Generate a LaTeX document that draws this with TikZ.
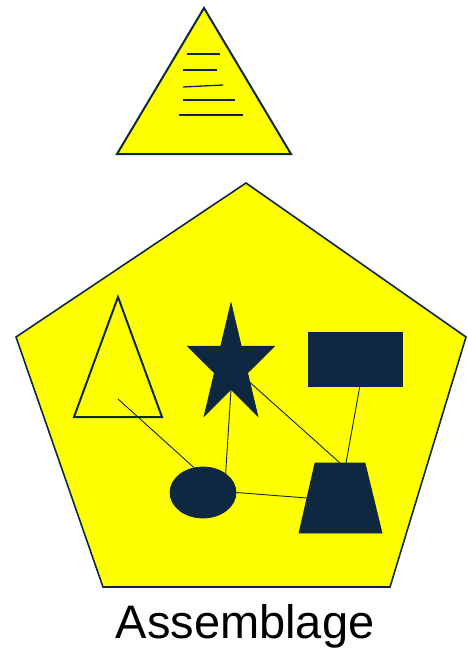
\documentclass[tikz,border=0pt]{standalone}
\usepackage{fontspec}
\setmainfont{Liberation Sans}
\usetikzlibrary{shapes.geometric}
\definecolor{navy}{HTML}{0E2841}
\definecolor{brightyellow}{HTML}{FFFF00}

\begin{document}
\begin{tikzpicture}[x=1pt, y=-1pt,
  outline/.style={draw=navy, line width=2pt},
  solid_part/.style={draw=navy, fill=navy, line width=0.75pt, inner sep=0pt},
  link/.style={draw=navy, line width=0.9pt},
  text_line/.style={draw=navy, line width=1.3pt}
]
  \useasboundingbox (0,0) rectangle (468,648);

  % TOP: pyramid with text lines
  \filldraw[outline, fill=brightyellow] (204,8) -- (291,154) -- (117,154) -- cycle;
  \draw[text_line] (187,54) -- (220,54);
  \draw[text_line] (183,70) -- (217,70);
  \draw[text_line] (183,87) -- (223,85);
  \draw[text_line] (183,100) -- (235,100);
  \draw[text_line] (179,115) -- (243,115);

  % BOTTOM: pentagon holding the parts
  \filldraw[outline, line width=1.6pt, fill=brightyellow]
    (246,183) -- (466,337) -- (390,587) -- (103,587) -- (16,337) -- cycle;

  % parts
  \draw[outline] (118,297) -- (162,417) -- (74,417) -- cycle;
  \coordinate (tri_mid) at (118,399);
  \node (star) [solid_part, star, star points=5, star point ratio=2.618,
    minimum size=125pt, xscale=0.73] at (231,365.5) {};
  \node (box) [solid_part, rectangle, minimum width=94pt, minimum height=54pt] at (355,359) {};
  \node (ell) [solid_part, ellipse, minimum width=66pt, minimum height=51pt] at (203,492.5) {};
  \filldraw[solid_part] (315,463) -- (365,463) -- (382,533) -- (299,533) -- cycle;
  \coordinate (trap_top_a) at (340,463);
  \coordinate (trap_top_b) at (346,463);
  \coordinate (trap_left) at (307,498);

  % links
  \draw[link] (tri_mid) -- (ell.110);
  \draw[link] (star.inner point 3) -- (ell.40);
  \draw[link] (star.center) -- (trap_top_a);
  \draw[link] (box.-80) -- (trap_top_b);
  \draw[link] (ell.east) -- (trap_left);

  \node (caption) [anchor=base, font=\fontsize{47}{50}\selectfont] at (245,638) {Assemblage};

\end{tikzpicture}
\end{document}
